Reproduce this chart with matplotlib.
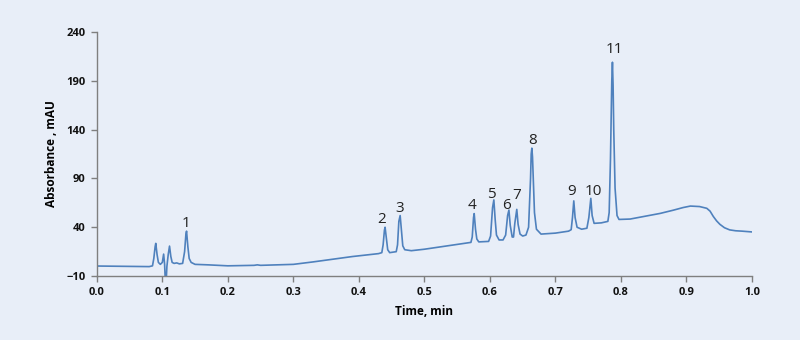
import matplotlib.pyplot as plt
from matplotlib.ticker import MultipleLocator

# traced chromatogram trace (time in min, absorbance in mAU)
time_min = [
    0.000, 0.040, 0.080, 0.085, 0.087, 0.089, 0.090, 0.092, 0.094, 0.097,
    0.100, 0.102, 0.1035, 0.1045, 0.106, 0.107, 0.109, 0.111, 0.113, 0.115,
    0.118, 0.122, 0.126, 0.131, 0.134, 0.136, 0.137, 0.139, 0.141, 0.144,
    0.150, 0.170, 0.200, 0.240, 0.245, 0.250, 0.300, 0.330, 0.390, 0.430,
    0.435, 0.437, 0.439, 0.440, 0.442, 0.444, 0.447, 0.457, 0.459, 0.461,
    0.463, 0.465, 0.467, 0.470, 0.480, 0.500, 0.560, 0.571, 0.573, 0.575,
    0.576, 0.578, 0.580, 0.583, 0.598, 0.601, 0.604, 0.606, 0.608, 0.610,
    0.614, 0.620, 0.624, 0.627, 0.629, 0.631, 0.634, 0.636, 0.638, 0.641,
    0.643, 0.646, 0.650, 0.655, 0.659, 0.662, 0.663, 0.664, 0.665, 0.666,
    0.668, 0.671, 0.678, 0.700, 0.720, 0.724, 0.726, 0.728, 0.730, 0.733,
    0.740, 0.748, 0.751, 0.754, 0.756, 0.759, 0.770, 0.780, 0.782, 0.784,
    0.786, 0.787, 0.788, 0.789, 0.791, 0.794, 0.797, 0.814, 0.860, 0.880,
    0.895, 0.906, 0.920, 0.931, 0.936, 0.941, 0.946, 0.951, 0.958, 0.966,
    0.975, 0.985, 1.000,
]
absorbance = [
    0.3, 0.0, -0.3, 0.5, 8, 20, 23.5, 12, 4, 2,
    4, 12.5, 2, -14, -14, 0, 12, 20.7, 10, 4,
    3, 3.5, 2.5, 3, 15, 33, 36, 20, 8, 4,
    2, 1.5, 0.5, 1, 1.5, 1, 2, 4.5, 10, 13,
    14, 22, 37, 40, 28, 17, 14, 15, 22, 46,
    52, 36, 21, 17, 16, 17.5, 23.5, 24.5, 30, 50,
    54, 38, 28, 25, 25.5, 31, 60, 68, 48, 32,
    27, 27, 32, 52, 57.6, 42, 30, 30, 44, 58.3,
    43, 33, 31, 32, 40, 90, 115, 121, 112, 92,
    55, 38, 33, 34, 36, 37.5, 50, 67, 50, 40,
    38, 39, 50, 69.6, 52, 44, 44.5, 46, 55, 110,
    190, 209, 185, 140, 80, 52, 48, 48.4, 54.2, 57.5,
    60.2, 61.7, 61.2, 59.4, 56.5, 51, 46.5, 43, 39.5, 37.3,
    36.4, 36.0, 35.2,
]

# retention times of the numbered peaks
peak_times = [0.137, 0.440, 0.463, 0.576, 0.606, 0.629, 0.641, 0.664, 0.728, 0.754, 0.787]
peak_labels = ["1", "2", "3", "4", "5", "6", "7", "8", "9", "10", "11"]
# label centre shift from each apex, in pixels
label_dx = [-1, -3, -0.5, -2, -2.5, -2, 0, 1, -2.5, 3, 2]
label_dy = [10, 10, 9, 10.5, 7, 6.5, 16, 10, 11, 9, 14.5]

bg = "#e8eef8"
fig = plt.figure(figsize=(8, 3.4), dpi=100, facecolor=bg)
ax = fig.add_axes([0.121, 0.188, 0.819, 0.718], facecolor=bg)

ax.plot(time_min, absorbance, color="#4f81bd", lw=1.2, solid_joinstyle="round")

for t, lab, dx, dy in zip(peak_times, peak_labels, label_dx, label_dy):
    y = absorbance[time_min.index(t)]
    ax.annotate(lab, (t, y), xytext=(dx, dy - 5.5), textcoords="offset pixels",
                ha="center", va="baseline", fontsize=11, family="Open Sans",
                color="#222222")

ax.set_xlim(0, 1.0)
ax.set_ylim(-10, 240)
ax.xaxis.set_major_locator(MultipleLocator(0.1))
ax.set_yticks([-10, 40, 90, 140, 190, 240])
ax.xaxis.set_major_formatter(plt.FormatStrFormatter("%.1f"))

for s in ["top", "right"]:
    ax.spines[s].set_visible(False)
for s in ["left", "bottom"]:
    ax.spines[s].set_color("#7f7f7f")
    ax.spines[s].set_linewidth(1.0)

ax.tick_params(axis="both", length=4, width=1.0, color="#7f7f7f",
               labelsize=8, pad=4, labelcolor="#111111")
for lbl in ax.get_xticklabels() + ax.get_yticklabels():
    lbl.set_fontweight("bold")
    lbl.set_family("Open Sans")

ax.set_xlabel("Time, min", fontsize=8.5, fontweight="bold", family="Open Sans", labelpad=5)
ax.set_ylabel("Absorbance , mAU", fontsize=8.5, fontweight="bold", family="Open Sans", labelpad=6)

fig.savefig("out.png", dpi=100, facecolor=bg)
